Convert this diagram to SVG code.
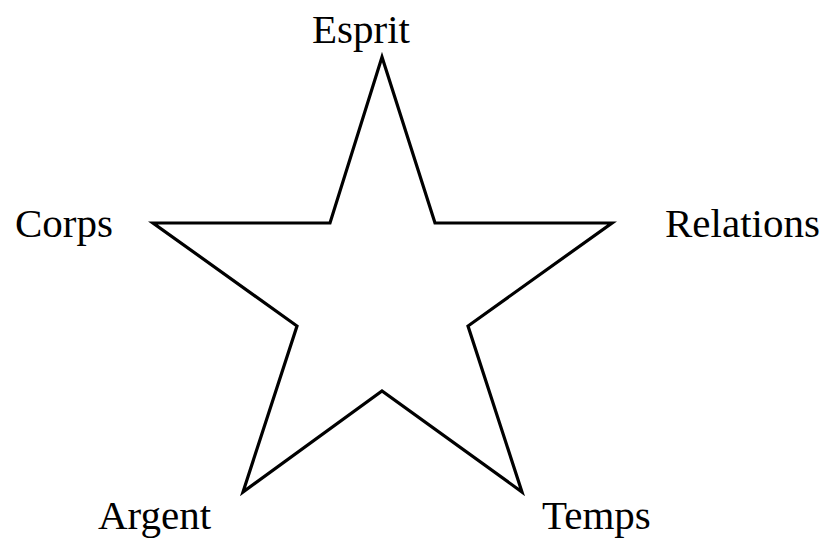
<svg xmlns="http://www.w3.org/2000/svg" width="829" height="539" viewBox="0 0 829 539">
<style>
.lbl{font-family:"Liberation Serif","Times New Roman",serif;font-size:41px;fill:#000}
.star{fill:#fff;stroke:#000;stroke-width:3.2;stroke-linejoin:miter;stroke-miterlimit:20}
</style>
<rect width="829" height="539" fill="#fff"/>
<g id="connectors"></g>
<g id="star">
<polygon class="star" points="382,57 435,223 612,223 468,326 522,492 382,391 243,492 297,326 153,223 330,223"/>
</g>
<g id="esprit"><text class="lbl" x="361" y="43" text-anchor="middle">Esprit</text></g>
<g id="corps"><text class="lbl" x="15" y="237">Corps</text></g>
<g id="relations"><text class="lbl" x="665" y="237">Relations</text></g>
<g id="argent"><text class="lbl" x="98" y="529">Argent</text></g>
<g id="temps"><text class="lbl" x="542" y="529">Temps</text></g>
</svg>
